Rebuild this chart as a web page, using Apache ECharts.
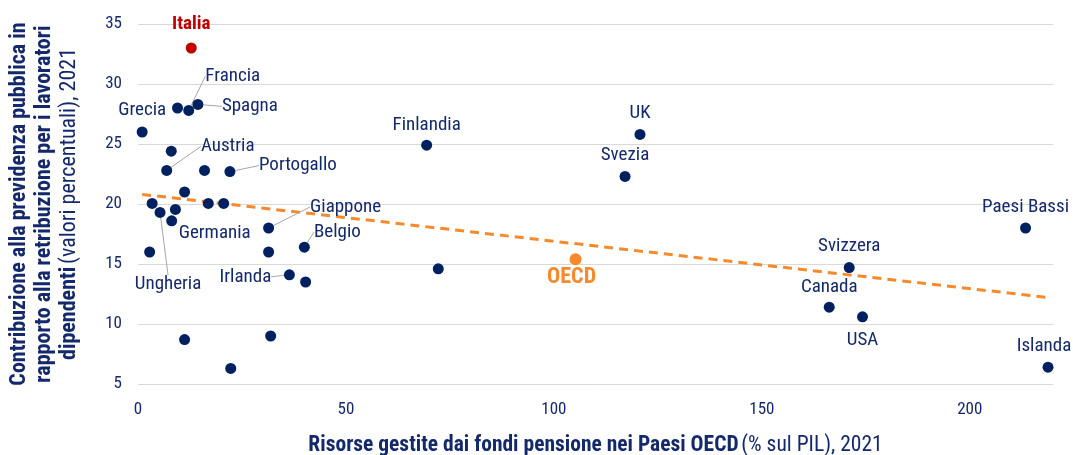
<!DOCTYPE html>
<html>
<head>
<meta charset="utf-8">
<script src="https://cdn.jsdelivr.net/npm/echarts@6/dist/echarts.min.js"></script>
<style>
html, body { margin: 0; padding: 0; background: #fff; }
#chart { width: 1073px; height: 455px; }
</style>
</head>
<body>
<div id="chart"></div>
<script>
// paesi OECD: risorse fondi pensione (% PIL) vs contribuzione (%)
var countries = ['Italia', 'Francia', '', 'Spagna', 'Grecia', '', 'Austria', '', 'Portogallo', '',
	'', 'Ungheria', '', 'Germania', '', '', 'Giappone', '', 'Belgio', '',
	'Irlanda', '', '', '', '', 'Finlandia', 'UK', 'Svezia', '', 'Paesi Bassi',
	'Svizzera', 'Canada', 'USA', 'Islanda'];
var fundAssets = [12.8, 12.2, 9.5, 14.4, 1.0, 8.0, 6.9, 16.0, 22.1, 11.2,
	3.4, 5.3, 9.0, 8.1, 16.9, 20.6, 31.4, 31.4, 40.0, 2.8,
	36.4, 40.3, 11.2, 31.9, 22.3, 69.4, 120.7, 117.1, 72.2, 213.4,
	171.0, 166.2, 174.2, 218.8];
var contribution = [33.0, 27.8, 28.0, 28.3, 26.0, 24.4, 22.8, 22.8, 22.7, 21.0,
	20.05, 19.3, 19.55, 18.6, 20.05, 20.05, 18.0, 16.0, 16.4, 16.0,
	14.1, 13.5, 8.7, 9.0, 6.3, 24.9, 25.8, 22.3, 14.6, 18.0,
	14.7, 11.4, 10.6, 6.4];
var oecdPoint = [105.2, 15.4];
var trendX = [1, 219];
var trendY = [20.8, 12.2];
var xTicks = [0, 50, 100, 150, 200];
var yTicks = [5, 10, 15, 20, 25, 30, 35];

var navy = '#002060';
var textNavy = '#14296b';
var orange = '#f58a2c';
var font = '"Roboto Condensed", "Liberation Sans", sans-serif';

// spostamento etichette (px) e linea guida
var labelOffsets = {
	'Italia': [0, -24, false],
	'Francia': [44, -34, true],
	'Spagna': [52, 2, true],
	'Grecia': [0, -22, false],
	'Austria': [61, -24, true],
	'Portogallo': [68, -6, true],
	'Giappone': [77, -21, true],
	'Belgio': [33, -15, true],
	'Irlanda': [-44, 2, true],
	'Germania': [43, 12, false],
	'Ungheria': [8, 72, true],
	'Finlandia': [0, -20, false],
	'UK': [0, -21, false],
	'Svezia': [0, -21, false],
	'Paesi Bassi': [0, -21, false],
	'Svizzera': [0, -21, false],
	'Canada': [0, -20, false],
	'USA': [0, 23, false],
	'Islanda': [-4, -21, false]
};

var points = [];
for (var i = 0; i < countries.length; i++) {
	var n = countries[i];
	var item = { name: n, value: [fundAssets[i], contribution[i]] };
	if (n === 'Italia') {
		item.itemStyle = { color: '#c00000' };
		item.label = { color: '#c00000', fontWeight: 'bold' };
	}
	if (labelOffsets[n] && labelOffsets[n][2]) {
		item.labelLine = { show: true };
	}
	points.push(item);
}

var chart = echarts.init(document.getElementById('chart'));

chart.setOption({
	animation: false,
	textStyle: { fontFamily: font },
	grid: { left: 138, right: 20, top: 24, bottom: 71, containLabel: false, outerBoundsMode: 'none' },
	xAxis: {
		type: 'value',
		min: 0,
		max: 220,
		interval: 50,
		splitLine: { show: false },
		axisLine: { show: false },
		axisTick: { show: false },
		axisLabel: {
			color: textNavy, fontSize: 17, margin: 17, fontFamily: font,
			formatter: function (v) { return xTicks.indexOf(v) >= 0 ? v : ''; }
		},
		name: '{b|Risorse gestite dai fondi pensione nei Paesi OECD} {n|(% sul PIL), 2021}',
		nameLocation: 'middle',
		nameGap: 51,
		nameTextStyle: {
			rich: {
				b: { fontSize: 21.5, fontWeight: 'bold', color: textNavy, fontFamily: font },
				n: { fontSize: 21.5, color: textNavy, fontFamily: font }
			}
		}
	},
	yAxis: {
		type: 'value',
		min: 5,
		max: 35,
		interval: 5,
		splitLine: { show: true, lineStyle: { color: '#d9d9d9', width: 1 } },
		axisLine: { show: false },
		axisTick: { show: false },
		axisLabel: {
			color: textNavy, fontSize: 17, margin: 16, fontFamily: font,
			formatter: function (v) { return yTicks.indexOf(v) >= 0 ? v : ''; }
		},
		name: '{b|Contribuzione alla previdenza pubblica in}\n{b|rapporto alla retribuzione per i lavoratori}\n{b|dipendenti} {n|(valori percentuali), 2021}',
		nameLocation: 'middle',
		nameRotate: 90,
		nameGap: 56,
		nameTextStyle: {
			align: 'center',
			rich: {
				b: { fontSize: 22, fontWeight: 'bold', color: textNavy, lineHeight: 25, fontFamily: font },
				n: { fontSize: 22, color: textNavy, lineHeight: 25, fontFamily: font }
			}
		}
	},
	series: [{
		name: 'Trend',
		type: 'line',
		data: [[trendX[0], trendY[0]], [trendX[1], trendY[1]]],
		symbol: 'none',
		lineStyle: { color: orange, width: 3, type: [9, 6] },
		silent: true,
		z: 1
	}, {
		name: 'Paesi',
		type: 'scatter',
		data: points,
		symbolSize: 11,
		itemStyle: { color: navy, opacity: 1 },
		label: {
			show: true,
			position: 'inside',
			formatter: '{b}',
			color: textNavy,
			fontSize: 19,
			fontFamily: font
		},
		labelLine: {
			show: false,
			lineStyle: { color: '#a6a6a6', width: 1 }
		},
		labelLayout: function (p) {
			var o = labelOffsets[countries[p.dataIndex]] || [0, 0];
			return { dx: o[0], dy: o[1] };
		},
		z: 3
	}, {
		name: 'OECD',
		type: 'scatter',
		data: [{ name: 'OECD', value: oecdPoint }],
		symbolSize: 12,
		itemStyle: { color: orange, opacity: 1 },
		label: {
			show: true,
			position: 'inside',
			formatter: '{b}',
			color: orange,
			fontWeight: 'bold',
			fontSize: 22,
			fontFamily: font
		},
		labelLayout: { dx: -4, dy: 18 },
		z: 3
	}]
});
</script>
</body>
</html>
